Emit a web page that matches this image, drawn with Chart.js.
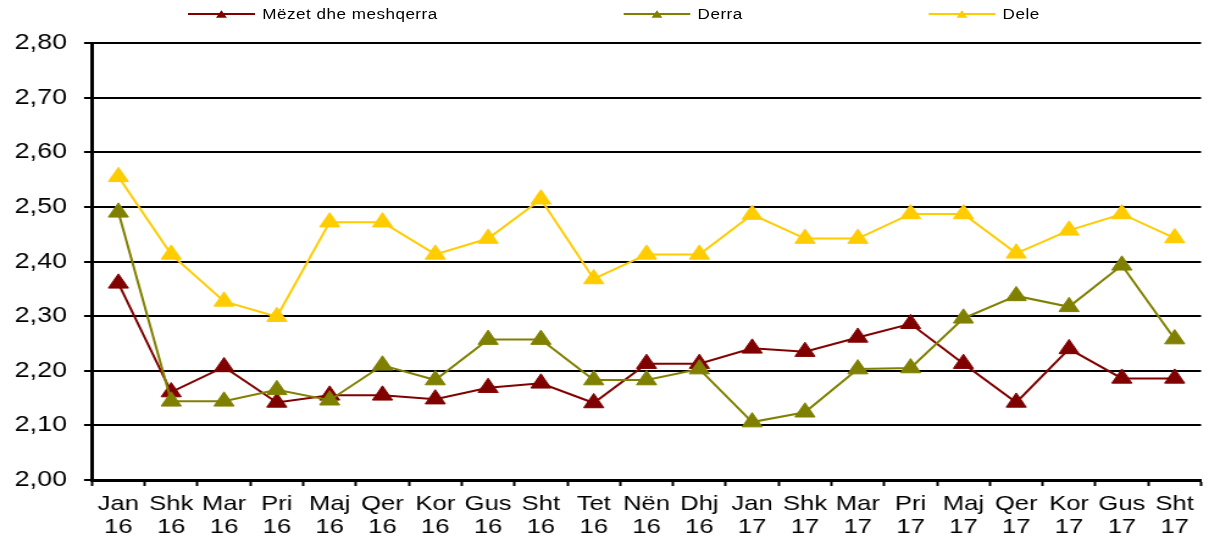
<!DOCTYPE html>
<html>
<head>
<meta charset="utf-8">
<script src="https://cdn.jsdelivr.net/npm/chart.js@4.4.1/dist/chart.umd.min.js"></script>
<style>
  body { margin: 0; background: #fff; }
  /* el gráfico original está estirado en horizontal */
  #wrap { position: relative; width: 995px; height: 538px; transform: scaleX(1.22); transform-origin: 0 0; }
  #leyenda { position: absolute; top: 0; left: 154px; height: 27px; display: flex; align-items: center; gap: 152px; font: 14px "Liberation Sans", Arial, sans-serif; color: #000; }
  .item { display: flex; align-items: center; }
  .item svg { margin-right: 6px; }
  .item span { letter-spacing: 0.4px; }
</style>
</head>
<body>
<div id="wrap">
  <canvas id="grafico"></canvas>
  <div id="leyenda"></div>
</div>
<script>
const meses = ["Jan", "Shk", "Mar", "Pri", "Maj", "Qer", "Kor", "Gus", "Sht", "Tet", "Nën", "Dhj",
               "Jan", "Shk", "Mar", "Pri", "Maj", "Qer", "Kor", "Gus", "Sht"];
const anios = ["16", "16", "16", "16", "16", "16", "16", "16", "16", "16", "16", "16",
               "17", "17", "17", "17", "17", "17", "17", "17", "17"];

const mezet = [2.360, 2.161, 2.207, 2.142, 2.155, 2.155, 2.148, 2.169, 2.177, 2.141, 2.213, 2.213,
               2.241, 2.235, 2.261, 2.286, 2.213, 2.142, 2.240, 2.186, 2.186];
const derra = [2.490, 2.144, 2.144, 2.165, 2.146, 2.210, 2.183, 2.257, 2.257, 2.183, 2.183, 2.203,
               2.106, 2.124, 2.203, 2.205, 2.296, 2.337, 2.317, 2.393, 2.258];
const dele  = [2.555, 2.413, 2.327, 2.299, 2.472, 2.472, 2.413, 2.442, 2.514, 2.368, 2.413, 2.413,
               2.486, 2.442, 2.442, 2.487, 2.487, 2.415, 2.457, 2.487, 2.443];

const fuente = '"Liberation Sans", Arial, sans-serif';
const etiquetas = meses.map((m, i) => [m, anios[i]]);

function serie(label, data, color, order) {
  return {
    label, data, order,
    borderColor: color, backgroundColor: color, borderWidth: 2,
    pointStyle: 'triangle', pointRadius: 9.5, pointBorderWidth: 1, tension: 0
  };
}

const ctx = document.getElementById("grafico").getContext("2d");
const grafico = new Chart(ctx, {
  type: 'line',
  data: {
    labels: etiquetas,
    datasets: [
      serie('Mëzet dhe meshqerra', mezet, '#800000', 3),
      serie('Derra', derra, '#808000', 2),
      serie('Dele', dele, '#FFCC00', 1)
    ]
  },
  options: {
    responsive: true,
    maintainAspectRatio: false,
    animation: false,
    layout: { padding: { top: 43, right: 5, left: 0, bottom: 0 } },
    plugins: { legend: { display: false }, tooltip: { enabled: false } },
    scales: {
      x: {
        offset: true,
        grid: { display: true, drawOnChartArea: false, offset: true, tickLength: 6, tickColor: '#000', tickWidth: 2 },
        border: { display: true, color: '#000', width: 3 },
        ticks: { autoSkip: false, maxRotation: 0, padding: 7, color: '#000', font: { family: fuente, size: 21, lineHeight: 1.07 } },
        afterFit: s => { s.height = 58; }
      },
      y: {
        min: 2, max: 2.8,
        grid: { color: '#000', lineWidth: 2, tickLength: 6.5, tickColor: '#000', tickWidth: 2 },
        border: { display: true, color: '#000', width: 3 },
        ticks: {
          stepSize: 0.1, padding: 14, color: '#000', font: { family: fuente, size: 22 },
          callback: v => v.toFixed(2).replace('.', ',')
        },
        afterFit: s => { s.width = 75.4; }
      }
    }
  }
});

// leyenda html: línea con triángulo
const leyenda = document.getElementById("leyenda");
grafico.data.datasets.forEach(ds => {
  const item = document.createElement("span");
  item.className = "item";
  item.innerHTML = `<svg width="55" height="12"><line x1="0" y1="6" x2="55" y2="6" stroke="${ds.borderColor}" stroke-width="2"/>` +
    `<polygon points="27.5,2.3 32,9.7 23,9.7" fill="${ds.borderColor}"/></svg><span>${ds.label}</span>`;
  leyenda.appendChild(item);
});
</script>
</body>
</html>
